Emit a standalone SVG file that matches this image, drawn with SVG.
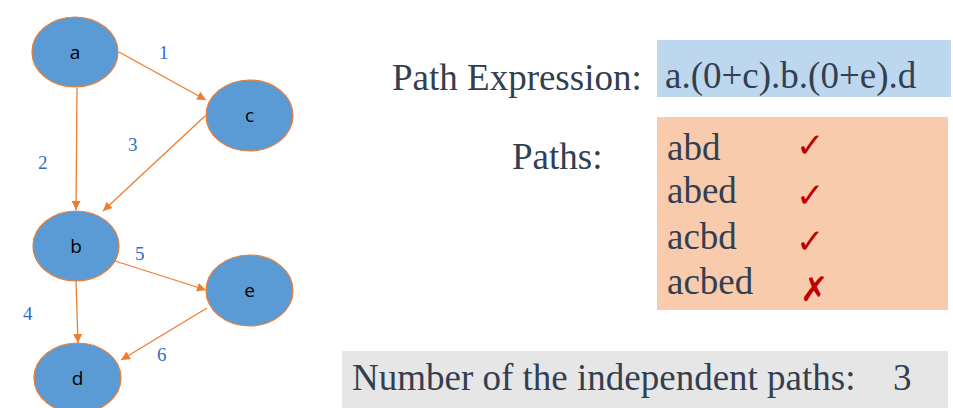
<svg xmlns="http://www.w3.org/2000/svg" width="953" height="408" viewBox="0 0 953 408">
<style>
.node ellipse{fill:#5b9bd5;stroke:#ed7d31;stroke-width:1.2}
.node text{font-family:"Open Sans","Liberation Sans",sans-serif;font-size:19px;fill:#000;text-anchor:middle}
.edge{stroke:#ed7d31;stroke-width:1.3;fill:none;marker-end:url(#arr)}
.lbl{font-family:"Liberation Serif",serif;font-size:19px;fill:#2e6fc4}
.big{font-family:"Liberation Serif",serif;font-size:37px;fill:#333f50}
.mark{font-family:"DejaVu Sans",sans-serif;font-size:34px;fill:#c00000}
</style>
<defs>
<marker id="arr" viewBox="0 0 10 10" refX="10" refY="5" markerWidth="9" markerHeight="9" markerUnits="userSpaceOnUse" orient="auto">
<path d="M0,0L10,5L0,10z" fill="#ed7d31"/>
</marker>
</defs>
<g id="connectors">
<line class="edge" x1="119" y1="52" x2="206" y2="100"/>
<line class="edge" x1="77" y1="88" x2="76" y2="210"/>
<line class="edge" x1="205" y1="116" x2="103" y2="211"/>
<line class="edge" x1="115" y1="261" x2="206" y2="290"/>
<line class="edge" x1="76" y1="281" x2="78" y2="343"/>
<line class="edge" x1="207" y1="308" x2="121" y2="360"/>
<text class="lbl" x="159" y="59">1</text>
<text class="lbl" x="38" y="169">2</text>
<text class="lbl" x="128" y="151">3</text>
<text class="lbl" x="135" y="260">5</text>
<text class="lbl" x="23" y="320">4</text>
<text class="lbl" x="157" y="361">6</text>
</g>
<g id="node-a" class="node"><ellipse cx="75" cy="52" rx="43" ry="35"/><text x="75" y="59">a</text></g>
<g id="node-c" class="node"><ellipse cx="249.5" cy="115.5" rx="43.5" ry="35.5"/><text x="249.5" y="122">c</text></g>
<g id="node-b" class="node"><ellipse cx="76" cy="246" rx="43" ry="35"/><text x="76" y="253">b</text></g>
<g id="node-e" class="node"><ellipse cx="249.5" cy="290.5" rx="43.5" ry="35.5"/><text x="249.5" y="297">e</text></g>
<g id="node-d" class="node"><ellipse cx="77.5" cy="378" rx="43.5" ry="35"/><text x="77.5" y="385">d</text></g>
<g id="expression">
<text class="big" x="392" y="90">Path Expression:</text>
<rect x="657" y="40" width="294" height="57" fill="#bdd7ee"/>
<text class="big" x="665" y="88">a.(0+c).b.(0+e).d</text>
</g>
<g id="paths">
<text class="big" x="512" y="169">Paths:</text>
<rect x="657" y="117" width="291" height="193" fill="#f8cbad"/>
<text class="big" x="667" y="160">abd</text>
<text class="big" x="667" y="203">abed</text>
<text class="big" x="667" y="249">acbd</text>
<text class="big" x="667" y="294">acbed</text>
<text class="mark" x="796" y="157">✓</text>
<text class="mark" x="796" y="207">✓</text>
<text class="mark" x="796" y="253">✓</text>
<text class="mark" x="800" y="301">✗</text>
</g>
<g id="count">
<rect x="342" y="351" width="606" height="57" fill="#e7e6e6"/>
<text class="big" x="352" y="390">Number of the independent paths:</text>
<text class="big" x="893" y="390">3</text>
</g>
</svg>
